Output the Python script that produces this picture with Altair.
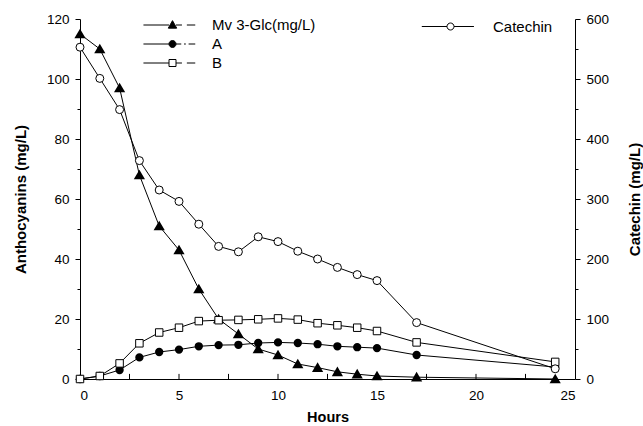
import altair as alt
import pandas as pd

# ---- data ----
hours = [0, 1, 2, 3, 4, 5, 6, 7, 8, 9, 10, 11, 12, 13, 14, 15, 17, 24]
mv3glc = [115, 110, 97, 68, 51, 43, 30, 20, 15, 10, 8, 5, 3.8, 2.4, 1.6, 1, 0.6, 0]
series_a = [0, 1, 3, 7.2, 9, 9.8, 10.9, 11.3, 11.4, 12, 12.2, 12, 11.6, 10.9, 10.6, 10.3, 8, 4]
series_b = [0, 1, 5.2, 11.9, 15.5, 17.1, 19.3, 19.6, 19.7, 19.9, 20.2, 19.8, 18.6, 17.9, 17.1, 16, 12.2, 5.7]
catechin = [553, 501, 449, 364, 315, 296, 258, 221, 212, 237, 229, 213, 200, 186, 174, 164, 94, 17]

antho_names = ["Mv 3-Glc(mg/L)", "A", "B"]
cat_names = ["Catechin"]

x_labels = [0, 5, 10, 15, 20, 25]
x_ticks = [2.5, 5, 7.5, 10, 12.5, 15, 17.5, 20, 22.5]
left_ticks = [0, 10, 20, 30, 40, 50, 60, 70, 80, 90, 100, 110, 120]
right_ticks = [0, 50, 100, 150, 200, 250, 300, 350, 400, 450, 500, 550, 600]

FONT = "Liberation Sans"

antho_df = pd.DataFrame({
    "Hours": hours * 3,
    "Value": mv3glc + series_a + series_b,
    "Series": [antho_names[0]] * len(hours) + [antho_names[1]] * len(hours) + [antho_names[2]] * len(hours),
})
cat_df = pd.DataFrame({"Hours": hours, "Catechin": catechin, "Series": cat_names * len(hours)})
tick_df = pd.DataFrame({"Hours": x_ticks})

x_scale = alt.Scale(domain=[0, 25], nice=False)
y_left_scale = alt.Scale(domain=[0, 120], nice=False)

x_axis = alt.Axis(
    values=x_labels, ticks=False, domain=True, domainColor="black", domainWidth=1,
    labelFont=FONT, labelFontSize=13.5, labelColor="black", labelPadding=9,
    title="Hours", titleFont=FONT, titleFontSize=14.5, titleFontWeight="bold",
    titleColor="black", titlePadding=9, grid=False)

y_left_axis = alt.Axis(
    orient="left", values=left_ticks,
    labelExpr="datum.value % 20 === 0 ? datum.label : ''",
    tickSize={"condition": {"test": "datum.value % 20 === 0", "value": 5}, "value": 3},
    tickColor="black", domainColor="black", labelFont=FONT, labelFontSize=13.5,
    labelColor="black", labelPadding=6,
    title="Anthocyanins (mg/L)", titleFont=FONT, titleFontSize=15,
    titleFontWeight="bold", titleColor="black", titlePadding=18, grid=False)

def x_main():
    return alt.X("Hours:Q", scale=x_scale, axis=x_axis)

def y_left():
    return alt.Y("Value:Q", scale=y_left_scale, axis=y_left_axis)

def y_right():
    return alt.Y("Catechin:Q", scale=alt.Scale(domain=[0, 600], nice=False), axis=alt.Axis(
        orient="right", values=right_ticks,
        labelExpr="datum.value % 100 === 0 ? datum.label : ''",
        tickSize={"condition": {"test": "datum.value % 100 === 0", "value": 5}, "value": 3},
        tickColor="black", domainColor="black", labelFont=FONT, labelFontSize=13.5,
        labelColor="black", labelPadding=6,
        title="Catechin (mg/L)", titleFont=FONT, titleFontSize=15, titleAngle=270,
        titleFontWeight="bold", titleColor="black", titlePadding=34, grid=False))

# ---- anthocyanin group (left axis) ----
base = alt.Chart(antho_df)
antho_lines = base.mark_line(color="black", strokeWidth=1).encode(
    x=x_main(), y=y_left(), detail="Series:N")
pts_mv = base.transform_filter(alt.datum.Series == antho_names[0]).mark_point(
    shape="triangle-up", filled=True, fill="black", stroke="black", size=60, opacity=1
).encode(x=x_main(), y=y_left())
pts_a = base.transform_filter(alt.datum.Series == antho_names[1]).mark_point(
    shape="circle", filled=True, fill="black", stroke="black", size=40, opacity=1
).encode(x=x_main(), y=y_left())
pts_b = base.transform_filter(alt.datum.Series == antho_names[2]).mark_point(
    shape="square", filled=True, fill="white", stroke="black", strokeWidth=1, size=56, opacity=1
).encode(x=x_main(), y=y_left())
# inward ticks on the hours axis
x_inward = alt.Chart(tick_df).mark_rule(color="black", strokeWidth=1).encode(
    x=x_main(),
    y=alt.YDatum(0, scale=y_left_scale, axis=y_left_axis),
    y2=alt.Y2Datum(1.7),
)
antho_group = alt.layer(antho_lines, pts_mv, pts_a, pts_b, x_inward)

# ---- catechin group (right axis) ----
cbase = alt.Chart(cat_df)
x_cat = alt.X("Hours:Q", scale=x_scale, axis=x_axis)
cat_line = cbase.mark_line(color="black", strokeWidth=1).encode(x=x_cat, y=y_right())
cat_pts = cbase.mark_point(
    shape="circle", filled=True, fill="white", stroke="black", strokeWidth=1, size=64, opacity=1
).encode(x=x_cat, y=y_right())
cat_group = alt.layer(cat_line, cat_pts)

# ---- legends (line stub + marker symbols) ----
tri_path = "M-8.3,0H-1M1,0H2.7M4.1,0H6.5M0,-1.25L1.2,0.9L-1.2,0.9Z"
dot_path = "M-8.3,0H-1M1,0H2.5M3.3,0H3.8M4.6,0H6.5M1,0A1,1,0,1,1,-1,0A1,1,0,1,1,1,0Z"
sq_path = "M-8.3,0H-1M1,0H2.7M4.1,0H6.5M-1,-1H1V1H-1Z"
cat_path = "M-8.2,0H-1M1,0H6.7M1,0A1,1,0,1,1,-1,0A1,1,0,1,1,1,0Z"

def legend(x, y, off):
    return alt.Legend(orient="none", legendX=x, legendY=y, title=None, padding=0,
                      labelFont=FONT, labelFontSize=15, labelColor="black",
                      labelOffset=off, symbolSize=49, symbolStrokeWidth=1, rowPadding=3)

leg1 = legend(85, -1.5, 32)
legend_antho = alt.Chart(pd.DataFrame({"Series": antho_names})).transform_filter("false").mark_point(
    filled=True, size=49, opacity=1, stroke="black", strokeWidth=1
).encode(
    shape=alt.Shape("Series:N", scale=alt.Scale(domain=antho_names, range=[tri_path, dot_path, sq_path]), legend=leg1),
    fill=alt.Fill("Series:N", scale=alt.Scale(domain=antho_names, range=["black", "black", "white"]), legend=leg1),
)
leg2 = legend(363, 0, 35)
legend_cat = alt.Chart(pd.DataFrame({"Series": cat_names})).transform_filter("false").mark_point(
    filled=True, size=49, opacity=1, stroke="black", strokeWidth=1
).encode(
    shape=alt.Shape("Series:N", scale=alt.Scale(domain=cat_names, range=[cat_path]), legend=leg2),
    fill=alt.Fill("Series:N", scale=alt.Scale(domain=cat_names, range=["white"]), legend=leg2),
)

chart = alt.layer(antho_group, cat_group, legend_antho, legend_cat).resolve_scale(
    y="independent", shape="independent", fill="independent"
).resolve_axis(y="independent").resolve_legend(
    shape="independent", fill="independent"
).properties(
    width=495, height=360,
    autosize=alt.AutoSizeParams(type="none"),
    padding={"left": 80, "top": 19, "right": 68, "bottom": 47},
    background="white",
).configure_view(stroke=None)

chart.save("out.html", embed_options={"renderer": "svg", "actions": False})
